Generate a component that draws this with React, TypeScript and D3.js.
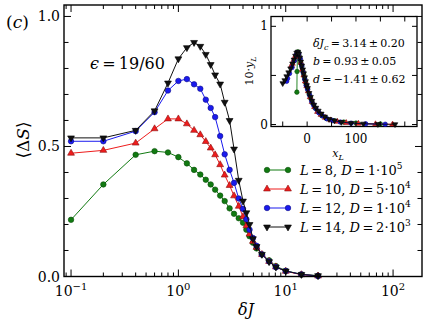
import React from 'react';
import * as d3 from 'd3';

// main panel: <ΔS> vs δJ
const deltaJ = [0.1, 0.2, 0.4, 0.6, 0.8, 1.0, 1.2, 1.4, 1.6, 1.8, 2.0, 2.2, 2.45, 2.7, 3.0, 3.3, 3.65, 4.0, 4.3, 4.6, 4.95, 5.35, 6.0, 7.0, 8.1, 10, 14, 20];
const dsL8 = [0.218, 0.354, 0.468, 0.482, 0.477, 0.459, 0.435, 0.41, 0.392, 0.372, 0.354, 0.334, 0.311, 0.29, 0.262, 0.241, 0.224, 0.207, 0.18, 0.155, 0.13, 0.108, 0.085, 0.062, 0.04, 0.022, 0.008, 0.003];
const dsL10 = [0.474, 0.485, 0.513, 0.568, 0.606, 0.606, 0.587, 0.562, 0.545, 0.519, 0.494, 0.468, 0.43, 0.39, 0.35, 0.31, 0.27, 0.23, 0.195, 0.163, 0.135, 0.112, 0.085, 0.058, 0.037, 0.02, 0.007, 0.002];
const dsL12 = [0.52, 0.52, 0.559, 0.632, 0.715, 0.752, 0.759, 0.739, 0.722, 0.68, 0.648, 0.613, 0.54, 0.47, 0.41, 0.36, 0.3, 0.26, 0.22, 0.18, 0.148, 0.118, 0.085, 0.058, 0.036, 0.021, 0.008, 0.002];
const dsL14 = [0.533, 0.533, 0.562, 0.637, 0.744, 0.837, 0.88, 0.9, 0.885, 0.854, 0.815, 0.775, 0.74, 0.67, 0.6, 0.49, 0.37, 0.29, 0.245, 0.2, 0.145, 0.115, 0.085, 0.057, 0.036, 0.021, 0.008, 0.003];

const sizesL = ['8', '10', '12', '14'];
const dimsD = [['1', '5'], ['5', '4'], ['1', '4'], ['2', '3']];
const colors = ['#117a11', '#ee1c1c', '#1a1aee', '#111111'];
const edgeColors = ['#0b4d0b', '#8a1010', '#0d0d88', '#000000'];
const markers = ['circle', 'up', 'circle', 'down'];

// inset: data collapse
const insetXL8 = [-21, -20.6, -19.8, -19, -18, -16.5, -15, -13, -11, -9, -7, -5, -3, -1, 1, 4, 7, 11, 16, 22, 30, 40, 55, 75, 100, 150];
const insetYL8 = [0.33, 0.54, 0.71, 0.74, 0.73, 0.7, 0.67, 0.63, 0.59, 0.55, 0.51, 0.47, 0.43, 0.4, 0.36, 0.31, 0.27, 0.22, 0.17, 0.13, 0.09, 0.06, 0.04, 0.025, 0.015, 0.006];
const insetXL10 = [-32, -30, -27, -24, -21, -18.5, -16, -13, -10, -7, -4, -1, 2, 6, 10, 15, 21, 28, 37, 48, 62, 80, 105, 140, 175];
const insetYL10 = [0.6, 0.62, 0.66, 0.7, 0.72, 0.72, 0.69, 0.63, 0.56, 0.5, 0.44, 0.39, 0.34, 0.28, 0.23, 0.18, 0.13, 0.1, 0.07, 0.045, 0.03, 0.018, 0.01, 0.005, 0.002];
const insetXL12 = [-42, -40, -36, -31, -26, -22, -19.5, -17, -14, -11, -8, -5, -2, 1, 5, 9, 13, 18, 24, 31, 40, 52, 68, 90, 120, 160];
const insetYL12 = [0.44, 0.47, 0.52, 0.58, 0.65, 0.71, 0.73, 0.72, 0.67, 0.6, 0.53, 0.46, 0.4, 0.36, 0.3, 0.24, 0.2, 0.16, 0.12, 0.09, 0.06, 0.04, 0.025, 0.014, 0.007, 0.003];
const insetXL14 = [-50, -46, -42, -38, -34, -30, -27, -24, -21.5, -19, -17, -15, -13, -11, -9, -7, -5, -3, -1, 1, 4, 7, 10, 14, 18, 23, 29, 36, 45, 56, 70, 90, 115, 145, 180];
const insetYL14 = [0.42, 0.45, 0.49, 0.53, 0.57, 0.62, 0.66, 0.7, 0.73, 0.74, 0.72, 0.68, 0.64, 0.6, 0.56, 0.52, 0.48, 0.44, 0.4, 0.37, 0.32, 0.28, 0.24, 0.2, 0.17, 0.14, 0.11, 0.08, 0.055, 0.04, 0.025, 0.015, 0.008, 0.004, 0.002];

const yTickVals = [0, 0.1, 0.2, 0.3, 0.4, 0.5, 0.6, 0.7, 0.8, 0.9, 1.0];
const yTickLabels = ['0.0', '0.5', '1.0'];
const xDecades = [-1, 0, 1, 2];
const insetXTicks = [-50, 0, 50, 100, 150, 200];
const insetXLabels = [0, 100];
const insetYTicks = [0, 0.5, 1];
const insetYLabels = [0, 1];
const fitLines = [
  ['δJ', 'c', '\u2009=\u20093.14\u2009±\u20090.20'],
  ['b', '', '\u2009=\u20090.93\u2009±\u20090.05'],
  ['d', '', '\u2009=\u2009−1.41\u2009±\u20090.62'],
];

const serif = "'DejaVu Serif', serif";
const eq = '\u2009=\u2009';

function markerPath(kind: string, size: number) {
  if (kind === 'circle') return d3.symbol().type(d3.symbolCircle).size(size)()!;
  return d3.symbol().type(d3.symbolTriangle).size(size * 0.85)()!;
}

function Marker({ kind, x, y, fill, stroke, size }: any) {
  const rot = kind === 'down' ? ' rotate(180)' : '';
  return <path d={markerPath(kind, size)} transform={`translate(${x},${y})${rot}`} fill={fill} stroke={stroke} strokeWidth={0.6} />;
}

export default function App() {
  const W = 431, H = 319;
  const left = 64, right = 422, top = 5, bottom = 276.5;
  const x = d3.scaleLog().domain([0.086, 186]).range([left, right]);
  const y = d3.scaleLinear().domain([0, 1.044]).range([bottom, top]);

  const main = [dsL8, dsL10, dsL12, dsL14];
  const line = d3.line<[number, number]>().x(d => x(d[0])).y(d => y(d[1]));

  const minor: number[] = [0.09];
  xDecades.forEach(e => { for (let k = 2; k <= 9; k++) minor.push(k * Math.pow(10, e)); });

  // inset geometry
  const il = 271, ir = 417, it = 16.5, ib = 126.5;
  const ix = d3.scaleLinear().domain([-74, 225]).range([il, ir]);
  const iy = d3.scaleLinear().domain([-0.02, 1.1]).range([ib, it]);
  const insetX = [insetXL8, insetXL10, insetXL12, insetXL14];
  const insetY = [insetYL8, insetYL10, insetYL12, insetYL14];
  const iline = d3.line<[number, number]>().x(d => ix(d[0])).y(d => iy(d[1]));

  const legendY = [170, 189, 208, 227];

  return (
    <svg width={W} height={H} style={{ position: 'absolute', left: 0, top: 0, background: '#fff' }} fontFamily={serif}>
      {/* series */}
      {main.map((vals, s) => {
        const pts = deltaJ.map((d, i) => [d, vals[i]] as [number, number]);
        return (
          <g key={s}>
            <path d={line(pts)!} fill="none" stroke={colors[s]} strokeWidth={1} />
            {pts.map((p, i) => (
              <Marker key={i} kind={markers[s]} x={x(p[0])} y={y(p[1])} fill={colors[s]} stroke={edgeColors[s]} size={24} />
            ))}
          </g>
        );
      })}

      {/* frame + ticks */}
      <rect x={left} y={top} width={right - left} height={bottom - top} fill="none" stroke="#000" strokeWidth={1.4} />
      {yTickVals.map((v, i) => {
        const len = i % 5 === 0 ? 7 : 4.5;
        return (
          <g key={i}>
            <line x1={left} x2={left + len} y1={y(v)} y2={y(v)} stroke="#000" strokeWidth={1} />
            <line x1={right} x2={right - len} y1={y(v)} y2={y(v)} stroke="#000" strokeWidth={1} />
          </g>
        );
      })}
      {yTickLabels.map((t, i) => (
        <text key={t} x={left - 4} y={y(i * 0.5) + 5} fontSize={14} textAnchor="end">{t}</text>
      ))}
      {xDecades.map(e => {
        const px = x(Math.pow(10, e));
        return (
          <g key={e}>
            <line x1={px} x2={px} y1={bottom} y2={bottom - 7} stroke="#000" />
            <line x1={px} x2={px} y1={top} y2={top + 7} stroke="#000" />
            <text x={px} y={296} fontSize={14} textAnchor="middle">
              10<tspan fontSize={10} dy={-6}>{e < 0 ? '−' + (-e) : e}</tspan>
            </text>
          </g>
        );
      })}
      {minor.filter(v => v > 0.086 && v < 186).map((v, i) => (
        <g key={i}>
          <line x1={x(v)} x2={x(v)} y1={bottom} y2={bottom - 4} stroke="#000" />
          <line x1={x(v)} x2={x(v)} y1={top} y2={top + 4} stroke="#000" />
        </g>
      ))}

      {/* axis labels */}
      <text x={246} y={315} fontSize={16} fontStyle="italic" textAnchor="middle">δJ</text>
      <text transform="translate(29,140) rotate(-90)" fontSize={17} textAnchor="middle">
        ⟨Δ<tspan fontStyle="italic">S</tspan>⟩
      </text>
      <text x={6} y={28} fontSize={17}>(<tspan fontStyle="italic">c</tspan>)</text>
      <text x={90} y={69} fontSize={16}>
        <tspan fontStyle="italic">ϵ</tspan>{eq}19/60
      </text>

      {/* legend */}
      {legendY.map((ly, s) => (
        <g key={s}>
          <line x1={267} x2={288} y1={ly} y2={ly} stroke={colors[s]} strokeWidth={1} />
          <Marker kind={markers[s]} x={267} y={ly} fill={colors[s]} stroke={edgeColors[s]} size={24} />
          <Marker kind={markers[s]} x={288} y={ly} fill={colors[s]} stroke={edgeColors[s]} size={24} />
          <text x={300} y={ly + 5} fontSize={13}>
            <tspan fontStyle="italic">L</tspan>{eq}{sizesL[s]},{' '}<tspan fontStyle="italic">D</tspan>{eq}{dimsD[s][0]}·10
            <tspan fontSize={9} dy={-6}>{dimsD[s][1]}</tspan>
          </text>
        </g>
      ))}

      {/* inset */}
      <rect x={il} y={it} width={ir - il} height={ib - it} fill="#fff" stroke="#000" strokeWidth={1.3} />
      {main.map((_, s) => {
        const pts = insetX[s].map((v, i) => [v, insetY[s][i]] as [number, number]);
        return (
          <g key={s}>
            <path d={iline(pts)!} fill="none" stroke={colors[s]} strokeWidth={0.9} />
            {pts.map((p, i) => (
              <Marker key={i} kind={markers[s]} x={ix(p[0])} y={iy(p[1])} fill={colors[s]} stroke={edgeColors[s]} size={16} />
            ))}
          </g>
        );
      })}
      {insetXTicks.map(v => (
        <g key={v}>
          <line x1={ix(v)} x2={ix(v)} y1={ib} y2={ib - 5} stroke="#000" />
          <line x1={ix(v)} x2={ix(v)} y1={it} y2={it + 5} stroke="#000" />
        </g>
      ))}
      {insetYTicks.map(v => (
        <g key={v}>
          <line x1={il} x2={il + 5} y1={iy(v)} y2={iy(v)} stroke="#000" />
          <line x1={ir} x2={ir - 5} y1={iy(v)} y2={iy(v)} stroke="#000" />
        </g>
      ))}
      {insetXLabels.map(v => (
        <text key={v} x={ix(v)} y={143} fontSize={12} textAnchor="middle">{v}</text>
      ))}
      {insetYLabels.map(v => (
        <text key={v} x={il - 3} y={iy(v) + 4} fontSize={12} textAnchor="end">{v}</text>
      ))}
      <text x={338} y={157} fontSize={11} fontStyle="italic" textAnchor="middle">
        x<tspan fontSize={8} dy={3}>L</tspan>
      </text>
      <text transform="translate(253,71) rotate(-90)" fontSize={11} textAnchor="middle">
        10·<tspan fontStyle="italic">y</tspan><tspan fontSize={8} fontStyle="italic" dy={3}>L</tspan>
      </text>
      {fitLines.map((f, i) => (
        <text key={i} x={313} y={47 + i * 18} fontSize={11}>
          <tspan fontStyle="italic">{f[0]}</tspan>
          {f[1] ? <tspan fontStyle="italic" fontSize={8} dy={3}>{f[1]}</tspan> : null}
          <tspan dy={f[1] ? -3 : 0}>{f[2]}</tspan>
        </text>
      ))}
    </svg>
  );
}
